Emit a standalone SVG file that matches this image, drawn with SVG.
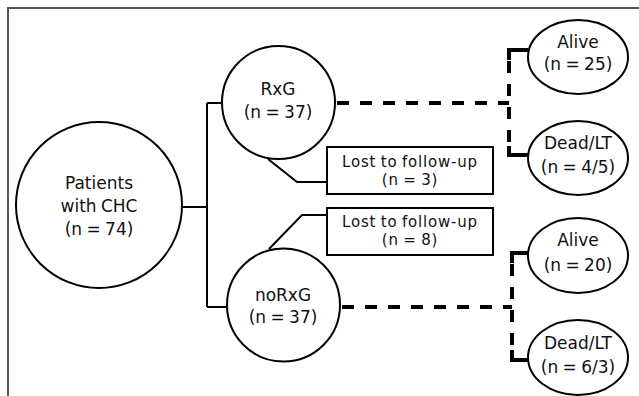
<svg xmlns="http://www.w3.org/2000/svg" width="639" height="396" viewBox="0 0 639 396">
<style>
.n{fill:#fff;stroke:#000;stroke-width:2}
.t{font-family:"DejaVu Sans",Verdana,sans-serif;font-size:17px;fill:#111;text-anchor:middle;word-spacing:-1px}
.b{font-size:15px;letter-spacing:0.8px;word-spacing:-1px}
.c{fill:none;stroke:#000;stroke-width:2}
.d{fill:none;stroke:#000;stroke-width:4;stroke-dasharray:12 11}
.s{fill:none;stroke:#000;stroke-width:4}
</style>
<rect width="639" height="396" fill="#fff"/>
<path d="M8,396 V8 H639" fill="none" stroke="#555" stroke-width="2"/>
<g id="connectors">
<path class="c" d="M182,207 H207 M207,103 V307 M207,103 H222 M207,307 H228"/>
<path class="c" d="M268,159 L297,182 H327 M269,249 L302,215 H327"/>
<path class="d" d="M337,103 H509"/>
<path class="d" d="M509,61 V150"/>
<path class="s" d="M509,60 V50 H528 M509,146 V155 H528"/>
<path class="d" d="M342,307 H512"/>
<path class="d" d="M512,264 V352"/>
<path class="s" d="M512,263 V253 H528 M512,350 V360 H529"/>
</g>
<g id="patients">
<circle class="n" cx="99" cy="205" r="83"/>
<text class="t" x="99" y="189">Patients</text>
<text class="t" x="99" y="212">with CHC</text>
<text class="t" x="99" y="235">(n = 74)</text>
</g>
<g id="rxg">
<circle class="n" cx="278.5" cy="102.5" r="56.5"/>
<text class="t" x="278" y="95">RxG</text>
<text class="t" x="278" y="118">(n = 37)</text>
</g>
<g id="norxg">
<circle class="n" cx="283.5" cy="305" r="56.5"/>
<text class="t" x="283" y="301">noRxG</text>
<text class="t" x="283" y="323">(n = 37)</text>
</g>
<g id="lost1">
<rect class="n" x="327" y="147" width="166" height="47"/>
<text class="t b" x="410" y="167">Lost to follow-up</text>
<text class="t b" x="410" y="185">(n = 3)</text>
</g>
<g id="lost2">
<rect class="n" x="327" y="208" width="166" height="47"/>
<text class="t b" x="410" y="227">Lost to follow-up</text>
<text class="t b" x="410" y="245">(n = 8)</text>
</g>
<g id="alive1">
<ellipse class="n" cx="578" cy="57" rx="50" ry="37"/>
<text class="t" x="578" y="48">Alive</text>
<text class="t" x="578" y="70">(n = 25)</text>
</g>
<g id="dead1">
<ellipse class="n" cx="578" cy="158" rx="50" ry="37"/>
<text class="t" x="578" y="149">Dead/LT</text>
<text class="t" x="578" y="173">(n = 4/5)</text>
</g>
<g id="alive2">
<ellipse class="n" cx="578" cy="255.5" rx="50" ry="37.5"/>
<text class="t" x="578" y="246">Alive</text>
<text class="t" x="578" y="271">(n = 20)</text>
</g>
<g id="dead2">
<ellipse class="n" cx="578" cy="357.5" rx="50" ry="37.5"/>
<text class="t" x="578" y="349">Dead/LT</text>
<text class="t" x="578" y="373">(n = 6/3)</text>
</g>
</svg>
